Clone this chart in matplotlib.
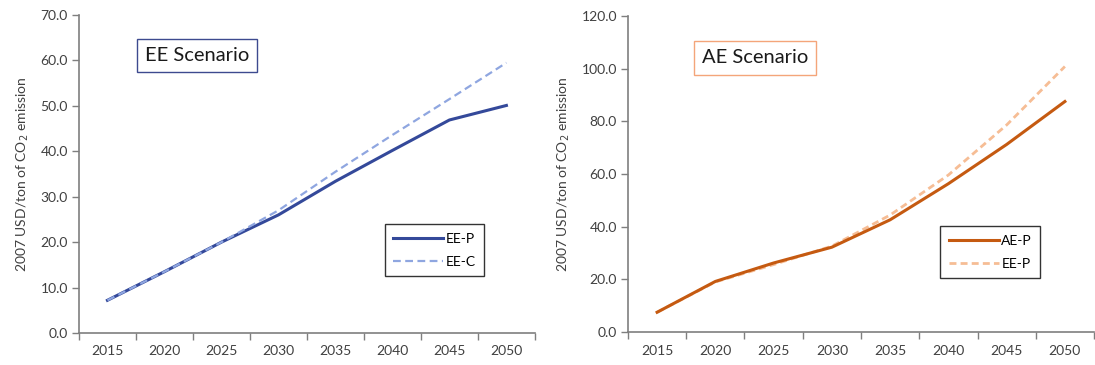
import numpy as np
import matplotlib.pyplot as plt

plt.rcParams['font.family'] = ['Lato', 'DejaVu Sans']

years = ['2015', '2020', '2025', '2030', '2035', '2040', '2045', '2050']

# EE scenario (left panel)
ee_p = [7.2, 13.5, 20.0, 26.0, 33.4, 40.2, 46.9, 50.1]
ee_c = [7.2, 13.5, 20.0, 27.0, 35.5, 43.6, 51.5, 59.5]

# AE scenario (right panel)
ae_p = [7.5, 19.2, 26.2, 32.2, 42.6, 56.3, 71.2, 87.5]
ee_p_ref = [7.5, 19.0, 25.6, 32.6, 44.4, 59.6, 78.6, 100.8]

x = np.arange(len(years))
axis_grey = '#7f7f7f'
text_col = '#404040'


def style_axis(ax, ymax, ystep):
    ax.set_xlim(-0.5, len(years) - 0.5)
    ax.set_ylim(0, ymax)
    ax.set_yticks(np.arange(0, ymax + 0.1, ystep))
    ax.set_yticklabels(['%.1f' % v for v in np.arange(0, ymax + 0.1, ystep)])
    # category axis: ticks between the years, labels in the middle
    ax.set_xticks(np.arange(-0.5, len(years)), labels=[''] * (len(years) + 1))
    ax.set_xticks(x, labels=years, minor=True)
    ax.tick_params(axis='x', which='major', length=5, color=axis_grey, width=1)
    ax.tick_params(axis='x', which='minor', length=0, pad=9, labelsize=10, labelcolor=text_col)
    ax.tick_params(axis='y', length=5, color=axis_grey, width=1, labelsize=10,
                   labelcolor=text_col, pad=3)
    for s in ['top', 'right']:
        ax.spines[s].set_visible(False)
    for s in ['left', 'bottom']:
        ax.spines[s].set_color(axis_grey)
        ax.spines[s].set_linewidth(1.2)
    ax.set_ylabel('2007 USD/ton of CO$_2$ emission', fontsize=10, color=text_col, labelpad=7)


def add_legend(ax, anchor):
    leg = ax.legend(loc='lower left', bbox_to_anchor=anchor, fontsize=10, frameon=True,
                    fancybox=False, edgecolor='black', handlelength=3.6, handletextpad=0.2,
                    borderpad=0.6, labelspacing=0.8, borderaxespad=0)
    leg.get_frame().set_linewidth(1)


fig = plt.figure(figsize=(10.95, 3.65), dpi=100)
ax1 = fig.add_axes([0.0721, 0.0877, 0.4164, 0.871])
ax2 = fig.add_axes([0.5735, 0.0904, 0.4256, 0.866])

ax1.plot(x, ee_p, color='#34499a', lw=2.2, label='EE-P', zorder=3)
ax1.plot(x, ee_c, color='#8fa6e0', lw=1.6, ls=(0, (3.5, 2)), label='EE-C', zorder=4)
style_axis(ax1, 70, 10)
ax1.text(0.259, 0.874, 'EE Scenario', transform=ax1.transAxes, ha='center', va='center',
         fontsize=14.5, color='#1a1a1a',
         bbox=dict(boxstyle='square,pad=0.4', fc='white', ec='#3d4a8f', lw=1))
add_legend(ax1, (0.671, 0.179))

ax2.plot(x, ae_p, color='#c55a11', lw=2.2, label='AE-P', zorder=4)
ax2.plot(x, ee_p_ref, color='#f6bd95', lw=2, ls=(0, (2.5, 1.5)), label='EE-P', zorder=3)
style_axis(ax2, 120, 20)
ax2.text(0.273, 0.867, 'AE Scenario', transform=ax2.transAxes, ha='center', va='center',
         fontsize=14.5, color='#1a1a1a',
         bbox=dict(boxstyle='square,pad=0.4', fc='white', ec='#f4a57a', lw=1))
add_legend(ax2, (0.67, 0.171))

fig.savefig('out.png', dpi=100)
